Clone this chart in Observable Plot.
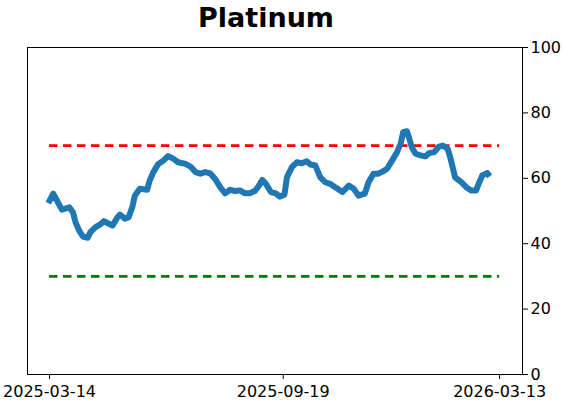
<!DOCTYPE html>
<html>
<head>
<meta charset="utf-8">
<script src="https://cdn.jsdelivr.net/npm/d3@7"></script>
<script src="https://cdn.jsdelivr.net/npm/@observablehq/plot@0.6"></script>
<style>
  html, body { margin: 0; padding: 0; background: #fff; }
  #chart { width: 562px; height: 402px; }
</style>
</head>
<body>
<div id="chart"></div>
<script>
const title = "Platinum";
const dates = [
  "2025-03-13","2025-03-17","2025-03-20","2025-03-24","2025-03-30","2025-04-02","2025-04-04","2025-04-07",
  "2025-04-10","2025-04-14","2025-04-16","2025-04-20","2025-04-24","2025-04-27","2025-05-01","2025-05-04",
  "2025-05-08","2025-05-10","2025-05-14","2025-05-17","2025-05-20","2025-05-22","2025-05-26","2025-06-01",
  "2025-06-03","2025-06-06","2025-06-10","2025-06-14","2025-06-18","2025-06-22","2025-06-26","2025-07-02",
  "2025-07-06","2025-07-10","2025-07-14","2025-07-18","2025-07-22","2025-07-26","2025-07-30","2025-08-03",
  "2025-08-07","2025-08-11","2025-08-15","2025-08-19","2025-08-23","2025-08-27","2025-08-30","2025-09-02",
  "2025-09-05","2025-09-09","2025-09-13","2025-09-16","2025-09-20","2025-09-22","2025-09-26","2025-09-30",
  "2025-10-04","2025-10-08","2025-10-11","2025-10-15","2025-10-19","2025-10-23","2025-10-27","2025-10-31",
  "2025-11-06","2025-11-11","2025-11-15","2025-11-19","2025-11-24","2025-11-27","2025-12-01","2025-12-05",
  "2025-12-09","2025-12-12","2025-12-16","2025-12-20","2025-12-23","2025-12-25","2025-12-28","2025-12-30",
  "2026-01-01","2026-01-04","2026-01-08","2026-01-12","2026-01-15","2026-01-19","2026-01-23","2026-01-26",
  "2026-01-30","2026-02-01","2026-02-05","2026-02-10","2026-02-14","2026-02-18","2026-02-22","2026-02-24",
  "2026-02-27","2026-03-03","2026-03-05"
];
const values = [
  52.4,55.3,53.2,50.4,51.1,49.6,46.6,44.0,
  42.2,41.8,43.5,45.0,45.9,46.9,46.1,45.6,
  48.1,48.9,47.6,48.1,51.2,54.7,56.8,56.5,
  59.3,61.9,64.4,65.4,66.8,66.0,64.9,64.4,
  63.6,61.9,61.4,61.9,61.5,59.8,57.3,55.4,
  56.5,56.1,56.3,55.4,55.4,56.1,57.5,59.5,
  58.3,55.8,55.4,54.4,55.0,60.3,63.4,64.9,
  64.6,65.2,64.2,63.9,60.3,58.8,58.3,57.3,
  55.8,57.8,56.8,54.7,55.3,58.8,61.4,61.4,
  62.2,62.9,65.4,68.0,70.6,74.1,74.4,72.1,
  69.5,67.5,67.0,66.7,67.7,68.0,69.7,70.0,
  69.0,66.5,60.3,58.8,57.3,56.3,56.3,58.3,
  60.9,61.6,60.6
];
const xTicks = ["2025-03-14", "2025-09-19", "2026-03-13"];
const yTicks = [0, 20, 40, 60, 80, 100];
const upperLevel = 70;
const lowerLevel = 30;
const rangeStart = "2025-03-14";
const rangeEnd = "2026-03-13";
const xDomain = ["2025-02-24T05:00:00Z", "2026-03-31T12:00:00Z"];

const parse = s => new Date(s.length === 10 ? s + "T00:00:00Z" : s);
const data = dates.map((d, i) => ({date: parse(d), value: values[i]}));

const chart = Plot.plot({
  width: 562,
  height: 402,
  marginTop: 47,
  marginLeft: 27,
  marginRight: 40,
  marginBottom: 28,
  style: {fontFamily: "DejaVu Sans", fontSize: "16px", color: "#000", background: "#fff"},
  x: {type: "utc", domain: xDomain.map(parse)},
  y: {domain: [0, 100]},
  marks: [
    Plot.ruleY([upperLevel], {x1: parse(rangeStart), x2: parse(rangeEnd), stroke: "#ff0000", strokeWidth: 2.8, strokeDasharray: "8.5,5.5"}),
    Plot.ruleY([lowerLevel], {x1: parse(rangeStart), x2: parse(rangeEnd), stroke: "#008000", strokeWidth: 2.8, strokeDasharray: "8.5,5.5"}),
    Plot.line(data, {x: "date", y: "value", stroke: "#1f77b4", strokeWidth: 6, strokeLinejoin: "round", strokeLinecap: "butt"}),
    Plot.frame({stroke: "#000", strokeWidth: 1}),
    Plot.axisX(xTicks.map(parse), {tickSize: 5, tickPadding: 6, tickFormat: d3.utcFormat("%Y-%m-%d"), fontSize: 16, label: null, stroke: "#000"}),
    Plot.axisY(yTicks, {anchor: "right", tickSize: 5, tickPadding: 3, fontSize: 16, label: null, stroke: "#000"}),
    Plot.text([title], {frameAnchor: "top", dy: -40, dx: -9, fontSize: 27, fontWeight: "bold", fill: "#000"})
  ]
});
document.getElementById("chart").appendChild(chart);
</script>
</body>
</html>
